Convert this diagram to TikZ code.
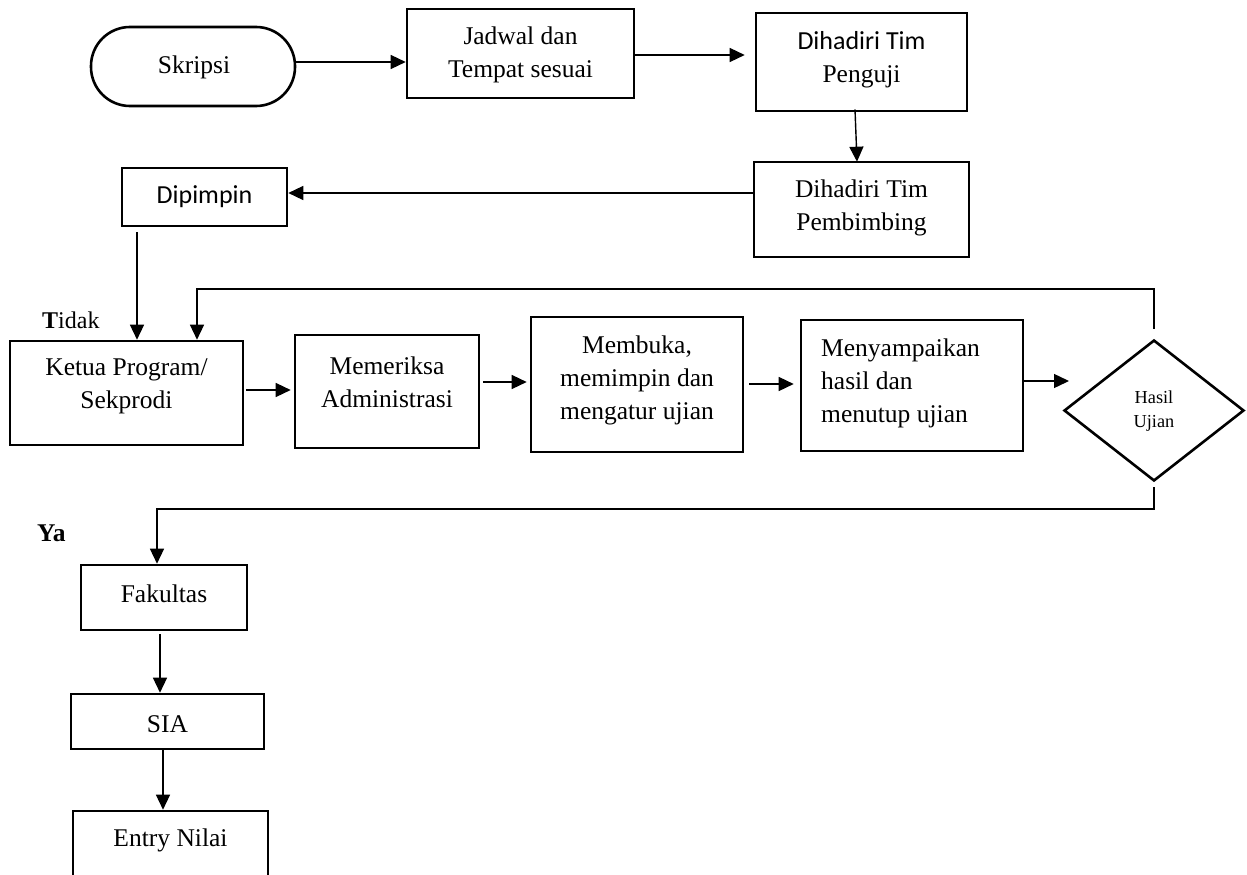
\documentclass[tikz,border=0pt]{standalone}
\usepackage{fontspec}
\setmainfont{Liberation Serif}
\newfontfamily\calibri{Carlito}
\usetikzlibrary{arrows.meta,shapes.geometric,calc}
\begin{document}
\begin{tikzpicture}[x=1pt,y=-1pt,
  box/.style={draw,line width=2.6pt,inner sep=0pt},
  txt/.style={align=center,inner sep=0pt,font=\fontsize{25.5}{33}\selectfont},
  conn/.style={line width=1.4pt},
  arr/.style={conn,-{Triangle[length=15pt,width=14pt]}},
]
\useasboundingbox[fill=white] (0,0) rectangle (1247,875);

% boxes
\node[box,rounded corners=39pt,minimum width=204pt,minimum height=79pt] (skripsi) at (193,66.5) {};
\node[box,minimum width=227pt,minimum height=89pt] (jadwal) at (520.5,53.5) {};
\node[box,minimum width=211pt,minimum height=98pt] (penguji) at (861.5,62) {};
\node[box,minimum width=215pt,minimum height=95pt] (pembimbing) at (861.5,209.5) {};
\node[box,minimum width=165pt,minimum height=58pt] (dipimpin) at (204.5,197) {};
\node[box,minimum width=233pt,minimum height=104pt] (ketua) at (126.5,393) {};
\node[box,minimum width=184pt,minimum height=113pt] (memeriksa) at (387,391.5) {};
\node[box,minimum width=212pt,minimum height=135pt] (membuka) at (637,384.5) {};
\node[box,minimum width=222pt,minimum height=131pt] (menyampaikan) at (912,385.5) {};
\node[box,diamond,minimum width=180pt,minimum height=141pt] (hasil) at (1154,410.5) {};
\node[box,minimum width=166pt,minimum height=65pt] (fakultas) at (164,597.5) {};
\node[box,minimum width=193pt,minimum height=55pt] (sia) at (167.5,721.5) {};
\node[box,minimum width=195pt,minimum height=78pt] (entry) at (170.5,850) {};

% texts
\node[txt] (skripsiT) at (194,67) {Skripsi};
\node[txt] (jadwalT) at (520.5,55) {Jadwal dan\\Tempat sesuai};
\node[txt] (pengujiT) at (861.5,59.5) {{\calibri\fontsize{26}{33}\selectfont Dihadiri Tim}\\Penguji};
\node[txt] (pembimbingT) at (861.5,207.5) {Dihadiri Tim\\Pembimbing};
\node[txt,font=\calibri\fontsize{26}{33}\selectfont] (dipimpinT) at (204.5,197) {Dipimpin};
\node[txt] (ketuaT) at (126.5,386.5) {Ketua Program/\\Sekprodi};
\node[txt] (memeriksaT) at (387,382.5) {Memeriksa\\Administrasi};
\node[txt] (membukaT) at (637,380) {Membuka,\\memimpin dan\\mengatur ujian};
\node[txt,align=left,anchor=west] (menyampaikanT) at (821,383) {Menyampaikan\\hasil dan\\menutup ujian};
\node[txt,font=\fontsize{18.3}{24}\selectfont] (hasilT) at (1154,411) {Hasil\\Ujian};
\node[txt] (fakultasT) at (164,594) {Fakultas};
\node[txt] (siaT) at (167.5,724) {SIA};
\node[txt] (entryT) at (170.5,840) {Entry Nilai};
\node[txt,font=\fontsize{24}{28}\selectfont,anchor=west] (tidak) at (42,320) {\textbf{T}idak};
\node[txt,font=\bfseries\fontsize{25.5}{30}\selectfont,anchor=west] (ya) at (37,533) {Ya};

% connectors
\coordinate (hasilIn) at (1069,381);
\draw[arr] (skripsi.east |- 0,62) -- (jadwal.west |- 0,62);
\draw[arr,shorten >=10pt] (jadwal.east |- 0,55) -- (penguji.west |- 0,55);
\draw[arr] ($(penguji.south)+(-6.5,-3)$) -- ($(pembimbing.north)+(-4.5,1)$);
\draw[arr] (pembimbing.west |- 0,193) -- (dipimpin.east |- 0,193);
\draw[arr] ($(dipimpin.south -| 137,0)+(0,5)$) -- (ketua.north -| 137,0);
\draw[arr] ($(hasil.north)+(0,-10)$) -- (hasil.north |- 0,289) -| (ketua.north -| 197,0);
\draw[arr,shorten <=2pt,shorten >=3pt] (ketua.east |- 0,390) -- (memeriksa.west |- 0,390);
\draw[arr,shorten <=3pt,shorten >=3pt] (memeriksa.east |- 0,382) -- (membuka.west |- 0,382);
\draw[arr,shorten <=5pt,shorten >=6pt] (membuka.east |- 0,384) -- (menyampaikan.west |- 0,384);
\draw[arr] (menyampaikan.east |- 0,381) -- (hasilIn);
\draw[arr] ($(hasil.south)+(0,5)$) -- (hasil.south |- 0,509) -| (fakultas.north -| 157,0);
\draw[arr,shorten <=3pt] (fakultas.south -| 160,0) -- (sia.north -| 160,0);
\draw[arr] (sia.south -| 163,0) -- (entry.north -| 163,0);
\end{tikzpicture}
\end{document}
